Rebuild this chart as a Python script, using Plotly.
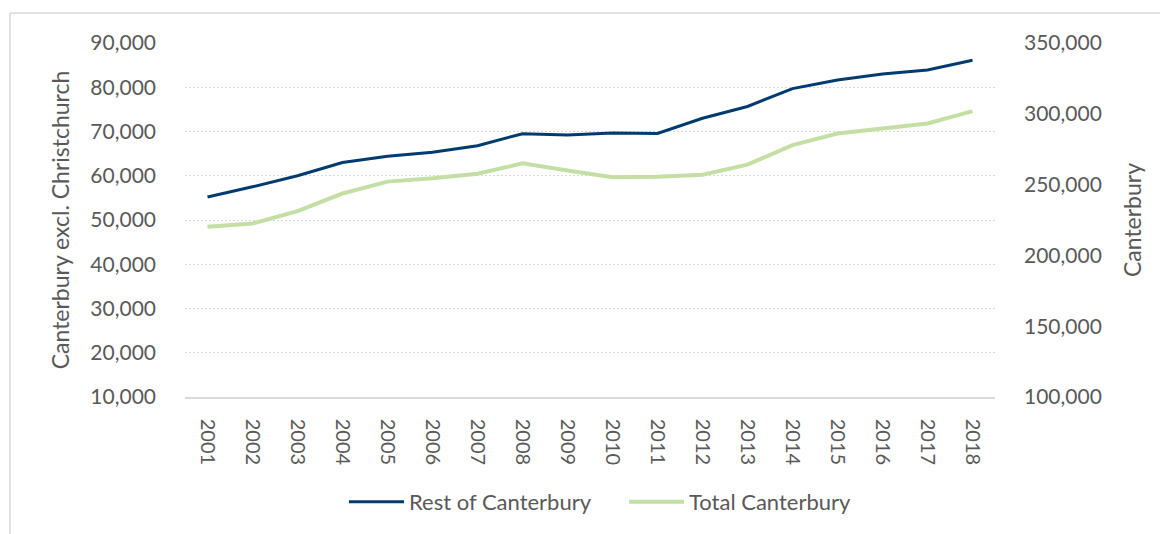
import plotly.graph_objects as go

years = [str(y) for y in range(2001, 2019)]
rest_of_canterbury = [55200, 57500, 60000, 63000, 64400, 65300, 66800, 69500, 69200,
                      69650, 69550, 73000, 75650, 79700, 81650, 83000, 83900, 86100]
total_canterbury = [220200, 222500, 231200, 243700, 252100, 254500, 257700, 265000, 259900,
                    255200, 255600, 257000, 264100, 277900, 286100, 289900, 293200, 301900]

left_ticks = list(range(10000, 90001, 10000))
right_ticks = list(range(100000, 350001, 50000))

FONT = "Lato, 'Open Sans', sans-serif"
GREY = "#595959"

fig = go.Figure()
fig.add_trace(go.Scatter(x=years, y=rest_of_canterbury, name="Rest of Canterbury",
                         mode="lines", line=dict(color="#003B6F", width=3), yaxis="y"))
fig.add_trace(go.Scatter(x=years, y=total_canterbury, name="Total Canterbury",
                         mode="lines", line=dict(color="#C4DFA4", width=4), yaxis="y2"))

# page is offset by the default 8px body margin
OFF = 8
W, H = 1168 - OFF, 534 - OFF
L, T = 185 - OFF, 43 - OFF
R = W - (995 - OFF)
B = H - (398 - OFF)
pw, ph = W - L - R, H - T - B

def px_x(p):
    return (p - OFF - L) / pw

def px_y(p):
    return (H - B - (p - OFF)) / ph

fig.update_layout(
    width=W, height=H,
    margin=dict(l=L, r=R, t=T, b=B),
    paper_bgcolor="white", plot_bgcolor="white",
    font=dict(family=FONT, color=GREY, size=21),
    showlegend=True,
    legend=dict(orientation="h", x=px_x(344), xanchor="left", y=px_y(502), yanchor="middle",
                font=dict(size=22, color=GREY), bgcolor="rgba(0,0,0,0)", itemwidth=55,
                entrywidth=210),
    xaxis=dict(type="category", range=[-0.5, 17.5], tickangle=90, showgrid=False,
               showline=True, linecolor="#D9D9D9", linewidth=1.5, ticks="",
               ticklabelstandoff=16, tickfont=dict(size=20, color=GREY), zeroline=False),
    yaxis=dict(range=[10000, 90000], tickvals=left_ticks, tickformat=",", showgrid=True,
               gridcolor="#D9D9D9", griddash="2px,2px", gridwidth=1, zeroline=False,
               showline=False, ticks="", ticklabelstandoff=28,
               tickfont=dict(size=21, color=GREY),
               title=dict(text="Canterbury excl. Christchurch", font=dict(size=23, color=GREY),
                          standoff=14)),
    yaxis2=dict(range=[100000, 350000], tickvals=right_ticks, tickformat=",", overlaying="y",
                side="right", showgrid=False, zeroline=False, showline=False, ticks="",
                ticklabelstandoff=28, tickfont=dict(size=21, color=GREY),
                title=dict(text="Canterbury", font=dict(size=23, color=GREY), standoff=24)),
    shapes=[
        dict(type="line", xref="paper", yref="paper", x0=px_x(10), x1=px_x(1175),
             y0=px_y(13), y1=px_y(13), line=dict(color="#D9D9D9", width=1.5)),
        dict(type="line", xref="paper", yref="paper", x0=px_x(10), x1=px_x(10),
             y0=px_y(13), y1=px_y(545), line=dict(color="#D9D9D9", width=1.5)),
    ],
)

fig.write_html("out.html")
